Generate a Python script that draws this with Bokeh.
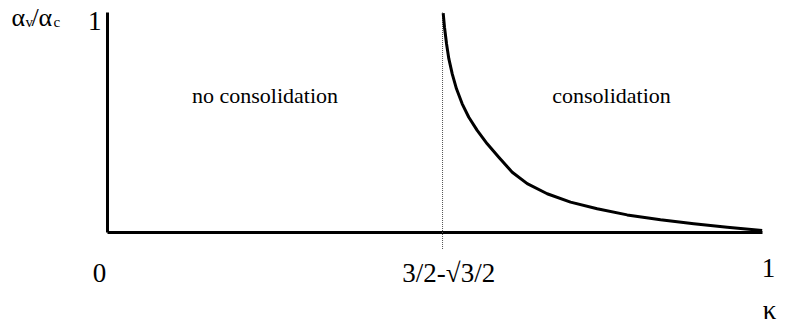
from bokeh.plotting import figure
from bokeh.models import Range1d, Label
from bokeh.embed import file_html
from bokeh.resources import INLINE

# Schematic kappa axis (0 .. 1); threshold 3/2 - sqrt(3)/2 drawn at a schematic position
kappa_c_pos = 0.5115
curve_kappa = [0.5125, 0.5145, 0.5176, 0.5211, 0.5263, 0.5328, 0.5415, 0.5516,
               0.5644, 0.5797, 0.5974, 0.6179, 0.6408, 0.6713, 0.7069, 0.7476,
               0.7934, 0.8443, 0.8951, 0.9461, 0.9995]
curve_ratio = [0.997, 0.933, 0.858, 0.79, 0.721, 0.653, 0.585, 0.524,
               0.464, 0.403, 0.342, 0.274, 0.222, 0.176, 0.138, 0.108,
               0.080, 0.058, 0.040, 0.024, 0.009]

tick_labels = ["0", "3/2-\u221a3/2", "1"]
tick_pos = [0.0, kappa_c_pos, 1.0]
region_labels = ["no consolidation", "consolidation"]
region_pos = [0.2405, 0.7695]
x_label = "\u03ba"
y_top_label = "1"

W, H = 789, 329
px_per_x = 655.0
px_per_y = 220.0
x0_canvas = 107.0
y0_canvas = 232.0

p = figure(width=W, height=H, output_backend="svg", toolbar_location=None,
           x_range=Range1d(-x0_canvas / px_per_x, (W - x0_canvas) / px_per_x),
           y_range=Range1d(-(H - y0_canvas) / px_per_y, y0_canvas / px_per_y),
           min_border=0)
p.axis.visible = False
p.grid.visible = False
p.outline_line_color = None
p.background_fill_color = "white"
p.border_fill_color = "white"

FONT = "Liberation Serif"

# axes
p.line([0, 1.0], [0, 0], line_color="black", line_width=3)
p.line([0, 0], [0, 1.0], line_color="black", line_width=3)
# threshold dotted line
p.line([kappa_c_pos, kappa_c_pos], [-0.075, 1.0], line_color="#555555",
       line_width=1, line_dash="1 1")
# curve alpha_v / alpha_c
p.line(curve_kappa, curve_ratio, line_color="black", line_width=3,
       line_join="round")


def lab(x, y, text, size, align="center", baseline="alphabetic"):
    p.add_layout(Label(x=x, y=y, text=text, text_font=FONT,
                       text_font_size=size, text_align=align,
                       text_baseline=baseline, text_color="black"))


# x tick labels
lab(tick_pos[0] - 0.0122, -0.182, tick_labels[0], "27px")
lab(tick_pos[1] + 0.0095, -0.186, tick_labels[1], "27px")
lab(tick_pos[2] + 0.0092, -0.1636, tick_labels[2], "27px")
# kappa
lab(1.0107, -0.3545, x_label, "27px")

# y label alpha_v/alpha_c and top tick "1"
lab(-0.1466, 0.977, "\u03b1", "26px", align="left")
lab(-0.1252, 0.959, "v", "15px", align="left")
lab(-0.1162, 0.977, "/\u03b1", "26px", align="left")
lab(-0.0824, 0.959, "c", "15px", align="left")
lab(-0.0092, 0.9636, y_top_label, "27px", align="right")

# region labels
for rx, rt in zip(region_pos, region_labels):
    lab(rx, 0.623, rt, "22px", baseline="middle")

open("out.html", "w").write(file_html(p, INLINE))
